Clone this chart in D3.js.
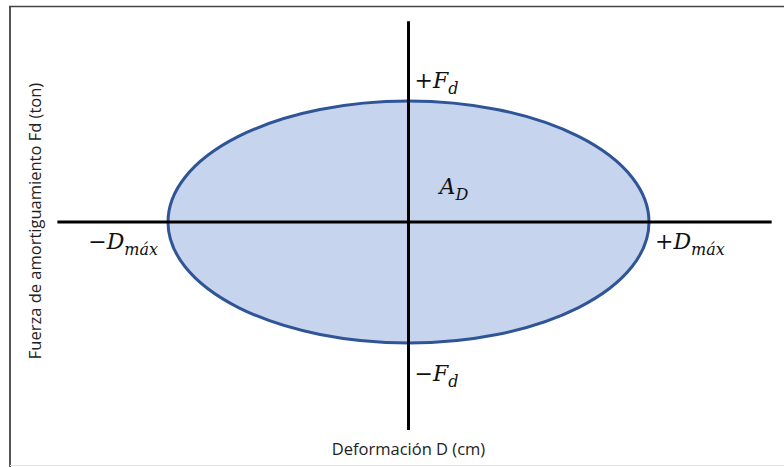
<!DOCTYPE html>
<html>
<head>
<meta charset="utf-8">
<script src="https://cdn.jsdelivr.net/npm/d3@7"></script>
<style>
  body { margin: 0; background: #fff; }
  svg { display: block; }
</style>
</head>
<body>
<div id="plot"></div>
<script>
// valores normalizados del lazo (D y F)
var dMax = 1;
var fMax = 1;
var xRange = [-1.46, 1.51];   // extension del eje de deformacion
var yRange = [-1.72, 1.66];   // extension del eje de fuerza

var xTitle = "Deformación D (cm)";
var yTitle = "Fuerza de amortiguamiento Fd (ton)";

var width = 784, height = 467;

var svg = d3.select("#plot")
  .append("svg")
  .attr("width", width)
  .attr("height", height);

// marco
svg.append("line")
  .attr("x1", 10).attr("x2", 10).attr("y1", 6).attr("y2", 467)
  .style("stroke", "#555").style("stroke-width", 2);
svg.append("line")
  .attr("x1", 9).attr("x2", 784).attr("y1", 6.5).attr("y2", 6.5)
  .style("stroke", "#444").style("stroke-width", 1.5);
svg.append("line")
  .attr("x1", 10).attr("x2", 784).attr("y1", 465.5).attr("y2", 465.5)
  .style("stroke", "#e4e4e4").style("stroke-width", 1);

// escalas
var x = d3.scaleLinear().domain([-dMax, dMax]).range([168, 649]);
var y = d3.scaleLinear().domain([-fMax, fMax]).range([343, 101]);

// elipse (area A_D)
svg.append("ellipse")
  .attr("cx", x(0))
  .attr("cy", y(0))
  .attr("rx", x(dMax) - x(0))
  .attr("ry", y(0) - y(fMax))
  .style("fill", "#c6d4ed")
  .style("stroke", "#2f5597")
  .style("stroke-width", 3);

// ejes
svg.append("line")
  .attr("x1", x(xRange[0])).attr("x2", x(xRange[1]))
  .attr("y1", y(0)).attr("y2", y(0))
  .style("stroke", "#000").style("stroke-width", 3);
svg.append("line")
  .attr("x1", x(0)).attr("x2", x(0))
  .attr("y1", y(yRange[1])).attr("y2", y(yRange[0]))
  .style("stroke", "#000").style("stroke-width", 3);

// etiquetas matematicas
function mathLabel(px, py, sign, main, sub, anchor) {
  var t = svg.append("text")
    .attr("x", px).attr("y", py)
    .attr("text-anchor", anchor || "start")
    .style("font-family", "'DejaVu Serif', 'Liberation Serif', serif")
    .style("font-size", "22px")
    .style("fill", "#111");
  if (sign) t.append("tspan").style("font-style", "normal").text(sign);
  t.append("tspan").style("font-style", "italic").text(main);
  t.append("tspan").attr("dy", 6).style("font-style", "italic").style("font-size", "16px").text(sub);
}

mathLabel(x(0) + 6, 88, "+", "F", "d");
mathLabel(x(0) + 6, 381, "\u2212", "F", "d");
mathLabel(x(-dMax) - 10, 249, "\u2212", "D", "máx", "end");
mathLabel(x(dMax) + 6, 249, "+", "D", "máx");
mathLabel(x(0) + 31, 194, "", "A", "D");

// titulos de ejes
svg.append("text")
  .attr("x", x(0))
  .attr("y", 455)
  .attr("text-anchor", "middle")
  .style("font-family", "'Open Sans', 'Noto Sans', sans-serif")
  .style("font-size", "16.5px")
  .style("fill", "#222")
  .text(xTitle);

svg.append("text")
  .attr("transform", "translate(41, 221) rotate(-90)")
  .attr("text-anchor", "middle")
  .style("font-family", "'Open Sans', 'Noto Sans', sans-serif")
  .style("font-size", "16.5px")
  .style("fill", "#222")
  .text(yTitle);
</script>
</body>
</html>
